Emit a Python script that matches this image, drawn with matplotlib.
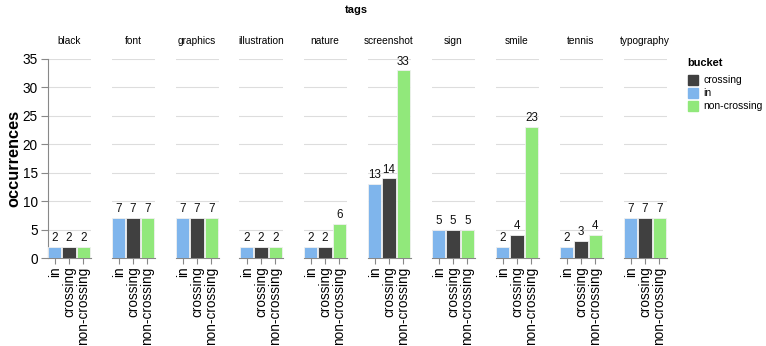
import matplotlib
matplotlib.use("Agg")
import matplotlib.pyplot as plt

plt.rcParams['font.family'] = ['Liberation Sans', 'DejaVu Sans']

tags = ["black", "font", "graphics", "illustration", "nature", "screenshot",
        "sign", "smile", "tennis", "typography"]
buckets = ["in", "crossing", "non-crossing"]
in_vals = [2, 7, 7, 2, 2, 13, 5, 2, 2, 7]
crossing_vals = [2, 7, 7, 2, 2, 14, 5, 4, 3, 7]
noncrossing_vals = [2, 7, 7, 2, 6, 33, 5, 23, 4, 7]
legend_order = ["crossing", "in", "non-crossing"]
colors = {"in": "#7fb5ec", "crossing": "#404040", "non-crossing": "#91e87b"}
yticks = [0, 5, 10, 15, 20, 25, 30, 35]

W, H = 766, 346
fig = plt.figure(figsize=(W / 100, H / 100), dpi=100)

def fx(px):
    return px / W

def fy(py):
    return 1 - py / H

left0 = 47.5
pw = 43
step = 64
top_px, bot_px = 59, 258

for i, tag in enumerate(tags):
    l = left0 + i * step
    ax = fig.add_axes([fx(l), fy(bot_px), fx(pw), (bot_px - top_px) / H])
    vals = [in_vals[i], crossing_vals[i], noncrossing_vals[i]]
    xs = list(range(len(buckets)))
    ax.bar(xs, vals, width=0.92, color=[colors[b] for b in buckets],
           edgecolor="#f0f0f0", linewidth=0.6, zorder=3)
    for x, v in zip(xs, vals):
        ax.text(x, v + 0.5, str(v), ha="center", va="bottom", fontsize=8.4,
                color="#111111", zorder=4)
    ax.set_xlim(-0.5, 2.5)
    ax.set_ylim(0, 35)
    ax.set_yticks(yticks)
    ax.yaxis.grid(True, color="#dddddd", linewidth=0.8, zorder=0)
    ax.set_axisbelow(True)
    for s in ["top", "right"]:
        ax.spines[s].set_visible(False)
    ax.spines["bottom"].set_color("#888888")
    ax.spines["bottom"].set_linewidth(0.8)
    ax.set_xticks(xs)
    ax.set_xticklabels(buckets, rotation=90, fontsize=9.8, va="top")
    ax.tick_params(axis="x", length=4, color="#888888", pad=2)
    if i == 0:
        ax.spines["left"].set_color("#888888")
        ax.spines["left"].set_linewidth(0.8)
        ax.tick_params(axis="y", length=5, color="#888888", labelsize=9.8, pad=2)
        ax.set_ylabel("occurrences", fontsize=11.8, fontweight="bold",
                      va="center")
        ax.yaxis.set_label_coords((14 - left0) / pw, 0.5)
    else:
        ax.spines["left"].set_visible(False)
        ax.tick_params(axis="y", length=0, labelleft=False)
    fig.text(fx(l + pw / 2), fy(41), tag, ha="center", va="center", fontsize=7.3)

fig.text(fx(356), fy(10), "tags", ha="center", va="center", fontsize=7.9,
         fontweight="bold")

# legend
fig.text(fx(687), fy(63), "bucket", ha="left", va="center", fontsize=7.9,
         fontweight="bold")
for k, b in enumerate(legend_order):
    yc = 80 + k * 13.2
    fig.patches.append(plt.Rectangle((fx(688), fy(yc + 5)), fx(10), 10 / H,
                                     transform=fig.transFigure,
                                     color=colors[b]))
    fig.text(fx(703), fy(yc), b, ha="left", va="center", fontsize=7.5)

fig.savefig("out.png", dpi=100)
